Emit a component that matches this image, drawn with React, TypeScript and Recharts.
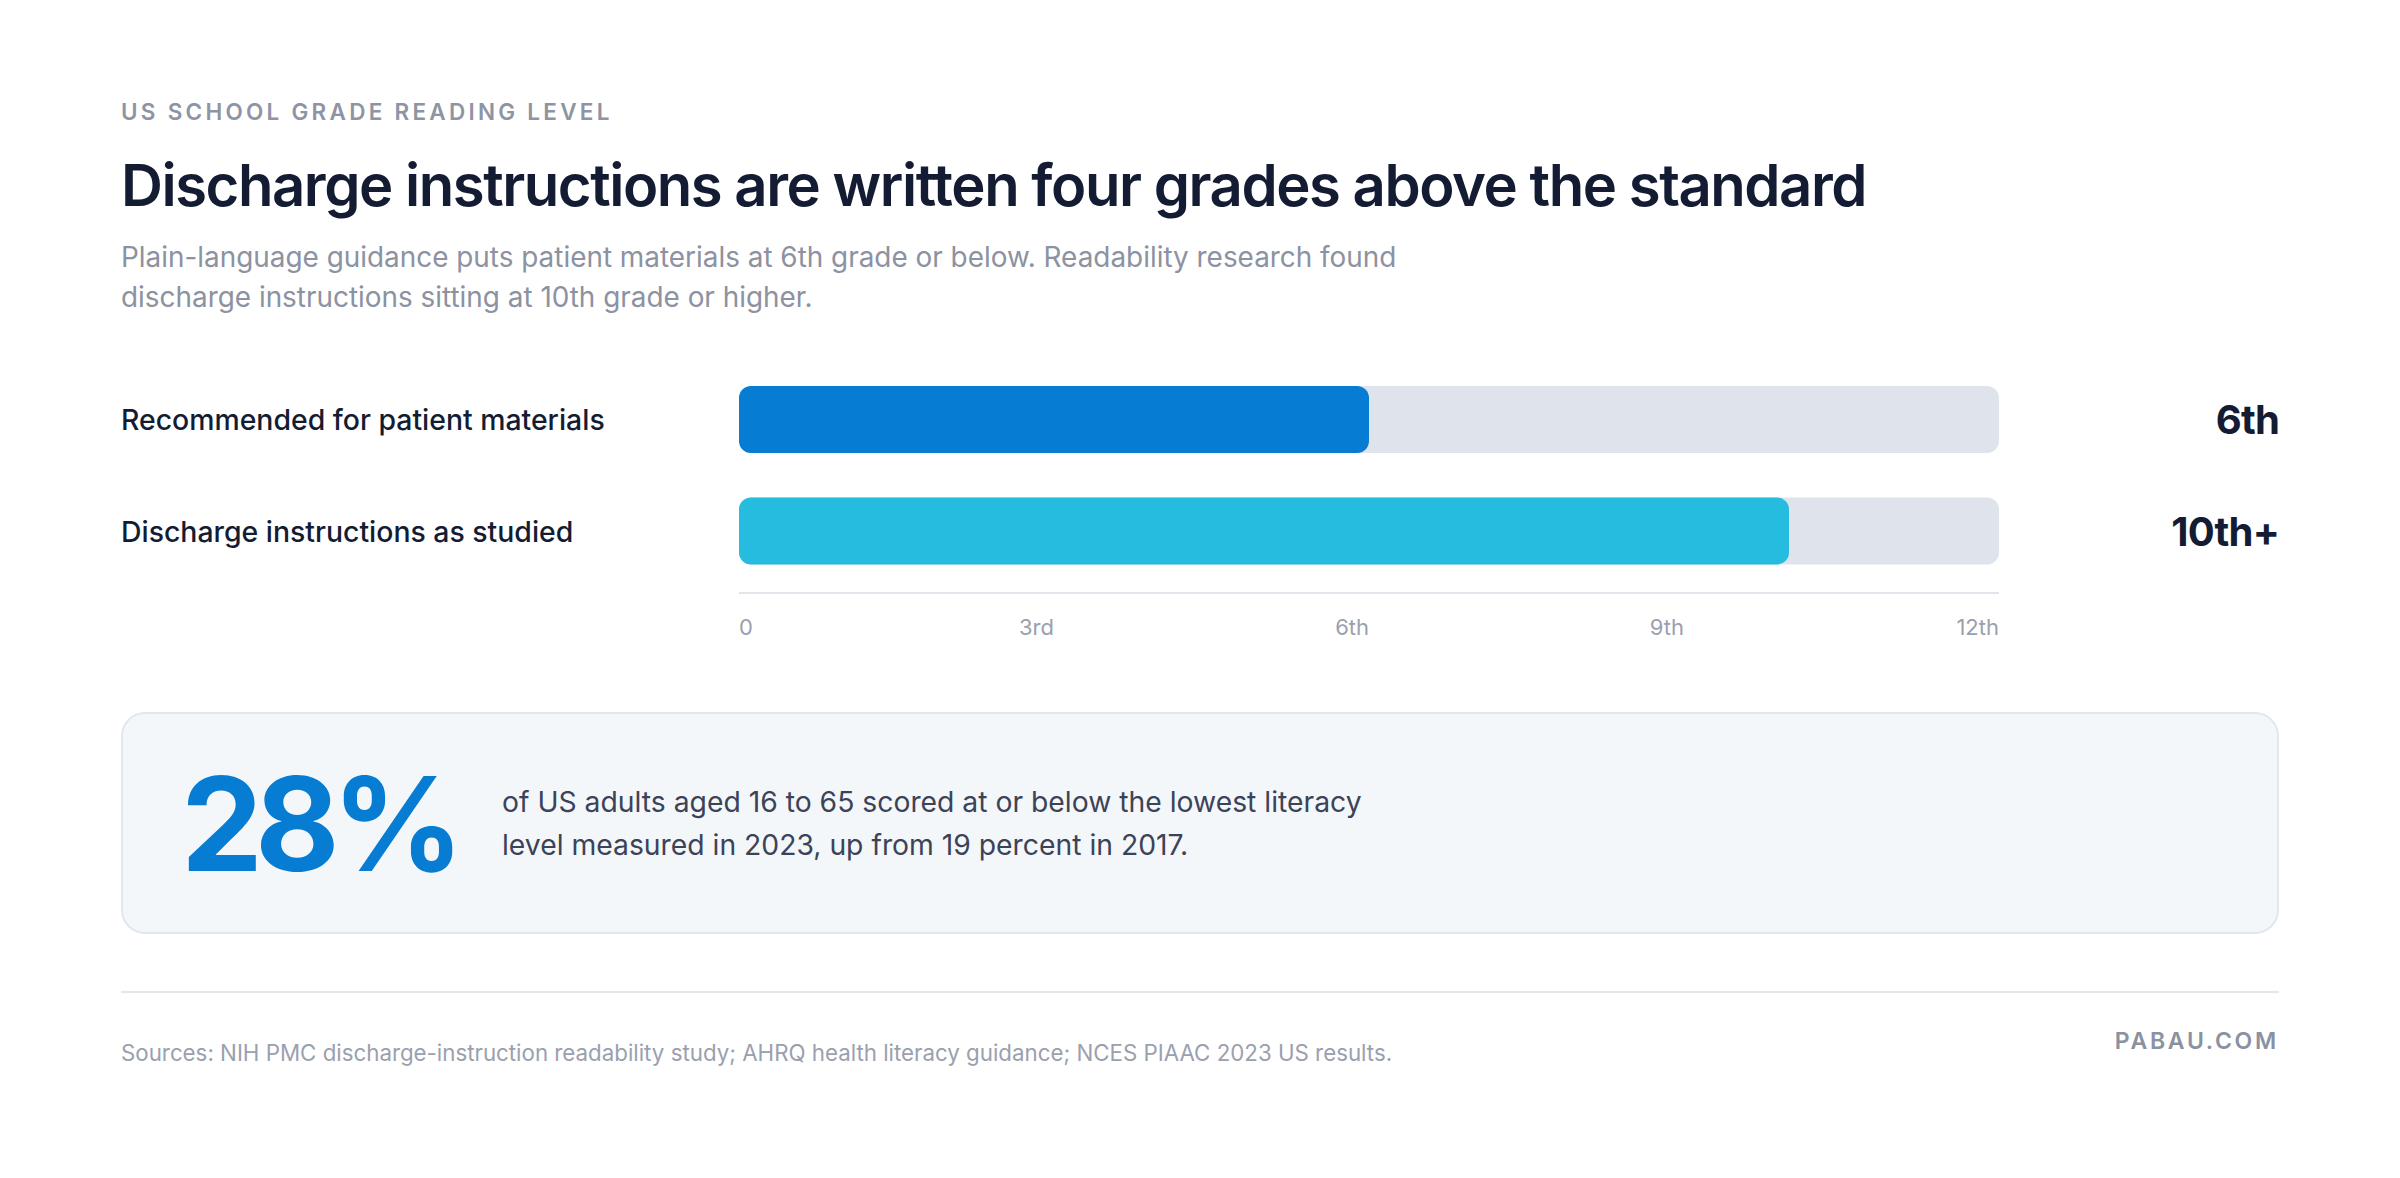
import { BarChart, Bar, XAxis, YAxis, Cell, LabelList } from "recharts";

const categories = [
  "Recommended for patient materials",
  "Discharge instructions as studied",
];
const grades = [6, 10];
const gradeLabels = ["6th", "10th+"];
const tickValues = [0, 3, 6, 9, 12];
const tickLabels = ["0", "3rd", "6th", "9th", "12th"];
const COLORS = ["#067cd3", "#25bce0"];

const data = categories.map((name, i) => ({
  name,
  grade: grades[i],
  label: gradeLabels[i],
}));

const FONT = "Inter, 'Noto Sans', sans-serif";
const CHART_W = 2158;
const CHART_H = 309;
const Y_AXIS_W = 618;

function RowTick(props: any) {
  const { y, payload } = props;
  return (
    <text
      x={0}
      y={y}
      dominantBaseline="central"
      fill="#141c33"
      fontSize={28.4}
      fontFamily={FONT}
      fontWeight={500}>
      {payload.value}
    </text>
  );
}

function GradeTick(props: any) {
  const { x, y, payload } = props;
  const idx = tickValues.indexOf(payload.value);
  return (
    <text
      x={x}
      y={y + 42}
      textAnchor={idx === 0 ? "start" : "end"}
      fill="#9aa0ae"
      fontSize={22}
      fontFamily={FONT}>
      {tickLabels[idx]}
    </text>
  );
}

function ValueLabel(props: any) {
  const { y, height, value } = props;
  return (
    <text
      x={CHART_W}
      y={y + height / 2}
      textAnchor="end"
      dominantBaseline="central"
      fill="#141c33"
      fontSize={40}
      fontWeight={700}
      letterSpacing="-0.02em"
      fontFamily={FONT}>
      {value}
    </text>
  );
}

export default function App() {
  return (
    <div
      style={{
        position: "absolute",
        left: 0,
        top: 0,
        width: 2400,
        height: 1178,
        background: "#ffffff",
        fontFamily: FONT,
        overflow: "hidden",
      }}>
      <div
        style={{
          position: "absolute",
          left: 121,
          top: 97,
          lineHeight: "30px",
          fontSize: 22.5,
          fontWeight: 600,
          letterSpacing: "0.145em",
          color: "#8e94a3",
        }}>
        US SCHOOL GRADE READING LEVEL
      </div>
      <div
        style={{
          position: "absolute",
          left: 121,
          top: 155,
          lineHeight: "60px",
          fontSize: 58,
          fontWeight: 600,
          letterSpacing: "-0.025em",
          color: "#141c33",
          whiteSpace: "nowrap",
        }}>
        Discharge instructions are written four grades above the standard
      </div>
      <div
        style={{
          position: "absolute",
          left: 121,
          top: 237,
          lineHeight: "40px",
          fontSize: 27.9,
          color: "#8c92a1",
          whiteSpace: "nowrap",
        }}>
        Plain-language guidance puts patient materials at 6th grade or below.
        Readability research found
        <br />
        discharge instructions sitting at 10th grade or higher.
      </div>

      <div style={{ position: "absolute", left: 121, top: 344 }}>
        <BarChart
          width={CHART_W}
          height={CHART_H}
          data={data}
          layout="vertical"
          margin={{ top: 20, right: CHART_W - Y_AXIS_W - 1260, bottom: 0, left: 0 }}>
          <XAxis
            type="number"
            domain={[0, 12]}
            ticks={tickValues}
            tickLine={false}
            tickSize={0}
            tickMargin={0}
            height={60}
            axisLine={{ stroke: "#e2e5eb", strokeWidth: 2 }}
            tick={(p: any) => <GradeTick {...p} />}
          />
          <YAxis
            type="category"
            dataKey="name"
            width={Y_AXIS_W}
            axisLine={false}
            tickLine={false}
            tickSize={0}
            tickMargin={0}
            padding={{ top: 0, bottom: 6 }}
            tick={(p: any) => <RowTick {...p} />}
          />
          <Bar
            dataKey="grade"
            barSize={67}
            radius={12}
            background={{ fill: "#dfe3ec", radius: 12 }}
            isAnimationActive={false}>
            {data.map((_, i) => (
              <Cell key={i} fill={COLORS[i % COLORS.length]} />
            ))}
            <LabelList dataKey="label" content={(p: any) => <ValueLabel {...p} />} />
          </Bar>
        </BarChart>
      </div>

      {/* callout box */}
      <div
        style={{
          position: "absolute",
          left: 121,
          top: 712,
          width: 2158,
          height: 222,
          boxSizing: "border-box",
          background: "#f4f7fa",
          border: "2px solid #e3e7ec",
          borderRadius: 24,
        }}>
        <div
          style={{
            position: "absolute",
            left: 58,
            top: 40,
            fontSize: 130,
            lineHeight: "140px",
            fontWeight: 700,
            letterSpacing: "-0.06em",
            color: "#067cd3",
          }}>
          28%
        </div>
        <div
          style={{
            position: "absolute",
            left: 379,
            top: 67,
            fontSize: 28.3,
            lineHeight: "43px",
            color: "#3c4358",
            whiteSpace: "nowrap",
          }}>
          of US adults aged 16 to 65 scored at or below the lowest literacy
          <br />
          level measured in 2023, up from 19 percent in 2017.
        </div>
      </div>

      <div
        style={{
          position: "absolute",
          left: 121,
          top: 991,
          width: 2158,
          height: 2,
          background: "#e4e6eb",
        }}
      />
      <div
        style={{
          position: "absolute",
          left: 121,
          top: 1038,
          lineHeight: "30px",
          fontSize: 22.3,
          color: "#9aa0ae",
          whiteSpace: "nowrap",
        }}>
        Sources: NIH PMC discharge-instruction readability study; AHRQ health
        literacy guidance; NCES PIAAC 2023 US results.
      </div>
      <div
        style={{
          position: "absolute",
          right: 2400 - 2279,
          top: 1026,
          lineHeight: "30px",
          fontSize: 23,
          fontWeight: 600,
          letterSpacing: "0.12em",
          color: "#8a91a1",
        }}>
        PABAU.COM
      </div>
    </div>
  );
}
